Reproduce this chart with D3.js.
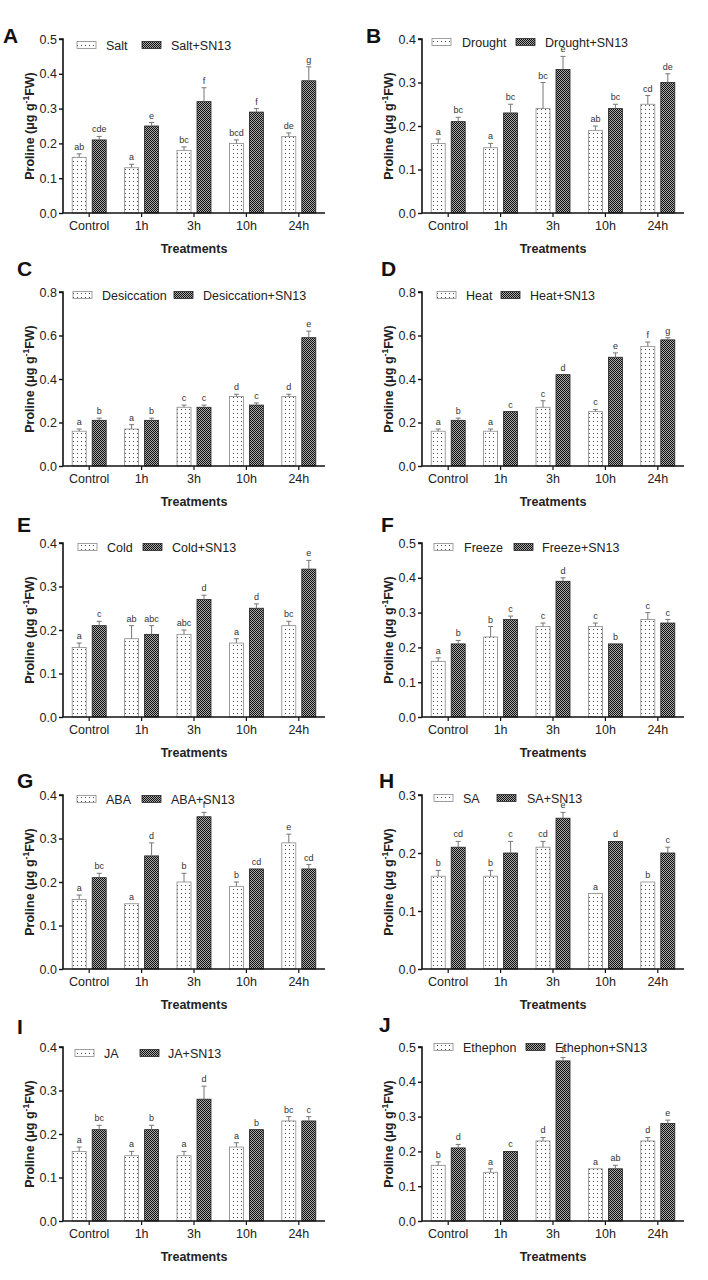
<!DOCTYPE html>
<html><head><meta charset="utf-8">
<script src="https://cdn.jsdelivr.net/npm/d3@7/dist/d3.min.js"></script>
<style>
html,body{margin:0;padding:0;background:#fff;}
svg{display:block;font-family:"Liberation Sans",Arial,sans-serif;}
</style></head>
<body>
<svg id="chart" width="708" height="1280"></svg>
<script>
// ---------- DATA ----------
const categories = ["Control", "1h", "3h", "10h", "24h"];
const panelIds = ["A","B","C","D","E","F","G","H","I","J"];
const treatments = ["Salt","Drought","Desiccation","Heat","Cold","Freeze","ABA","SA","JA","Ethephon"];
const yMaxes = [0.5, 0.4, 0.8, 0.8, 0.4, 0.5, 0.4, 0.3, 0.4, 0.5];
const yStep  = [0.1, 0.1, 0.2, 0.2, 0.1, 0.1, 0.1, 0.1, 0.1, 0.1];

// stress alone: means, errors, letters
const stressMeans = [
  [0.16, 0.13, 0.18, 0.20, 0.22],
  [0.16, 0.15, 0.24, 0.19, 0.25],
  [0.16, 0.17, 0.27, 0.32, 0.32],
  [0.16, 0.16, 0.27, 0.25, 0.55],
  [0.16, 0.18, 0.19, 0.17, 0.21],
  [0.16, 0.23, 0.26, 0.26, 0.28],
  [0.16, 0.15, 0.20, 0.19, 0.29],
  [0.16, 0.16, 0.21, 0.13, 0.15],
  [0.16, 0.15, 0.15, 0.17, 0.23],
  [0.16, 0.14, 0.23, 0.15, 0.23]
];
const stressErr = [
  [0.01, 0.01, 0.01, 0.01, 0.01],
  [0.01, 0.01, 0.06, 0.01, 0.02],
  [0.01, 0.02, 0.01, 0.01, 0.01],
  [0.01, 0.01, 0.03, 0.01, 0.02],
  [0.01, 0.03, 0.01, 0.01, 0.01],
  [0.01, 0.03, 0.01, 0.01, 0.02],
  [0.01, 0.00, 0.02, 0.01, 0.02],
  [0.01, 0.01, 0.01, 0.00, 0.00],
  [0.01, 0.01, 0.01, 0.01, 0.01],
  [0.01, 0.01, 0.01, 0.00, 0.01]
];
const stressLetters = [
  ["ab","a","bc","bcd","de"],
  ["a","a","bc","ab","cd"],
  ["a","a","c","d","d"],
  ["a","a","c","c","f"],
  ["a","ab","abc","a","bc"],
  ["a","b","c","c","c"],
  ["a","a","b","b","e"],
  ["b","b","cd","a","b"],
  ["a","a","a","a","bc"],
  ["b","a","d","a","d"]
];
// stress + SN13
const sn13Means = [
  [0.21, 0.25, 0.32, 0.29, 0.38],
  [0.21, 0.23, 0.33, 0.24, 0.30],
  [0.21, 0.21, 0.27, 0.28, 0.59],
  [0.21, 0.25, 0.42, 0.50, 0.58],
  [0.21, 0.19, 0.27, 0.25, 0.34],
  [0.21, 0.28, 0.39, 0.21, 0.27],
  [0.21, 0.26, 0.35, 0.23, 0.23],
  [0.21, 0.20, 0.26, 0.22, 0.20],
  [0.21, 0.21, 0.28, 0.21, 0.23],
  [0.21, 0.20, 0.46, 0.15, 0.28]
];
const sn13Err = [
  [0.01, 0.01, 0.04, 0.01, 0.04],
  [0.01, 0.02, 0.03, 0.01, 0.02],
  [0.01, 0.01, 0.01, 0.01, 0.03],
  [0.01, 0.00, 0.00, 0.02, 0.01],
  [0.01, 0.02, 0.01, 0.01, 0.02],
  [0.01, 0.01, 0.01, 0.00, 0.01],
  [0.01, 0.03, 0.01, 0.00, 0.01],
  [0.01, 0.02, 0.01, 0.00, 0.01],
  [0.01, 0.01, 0.03, 0.00, 0.01],
  [0.01, 0.00, 0.01, 0.01, 0.01]
];
const sn13Letters = [
  ["cde","e","f","f","g"],
  ["bc","bc","e","bc","de"],
  ["b","b","c","c","e"],
  ["b","c","d","e","g"],
  ["c","abc","d","d","e"],
  ["b","c","d","b","c"],
  ["bc","d","f","cd","cd"],
  ["cd","c","e","d","c"],
  ["bc","b","d","b","c"],
  ["d","c","f","ab","e"]
];

// ---------- LAYOUT ----------
const colAxisX = [63, 422];
const plotW = 262;
const rowTop = [39, 292, 543, 795, 1047];
const plotH = 174;
// legend: [swatch1 x offset, text1, swatch2, text2, y offset] relative to axis x / plot top
const legendLayout = [
  [14, 43, 79, 108, 6],
  [10, 40, 94, 123, 3],
  [10, 39, 111, 140, 3],
  [15, 44, 79, 108, 3],
  [15, 44, 80, 109, 4],
  [12, 42, 92, 120, 4],
  [14, 43, 79, 108, 4],
  [12, 41, 75, 105, 3],
  [12, 41, 77, 105, 6],
  [12, 41, 104, 133, 0]
];
const labelPos = [[3,43],[366,43],[17,276],[381,276],[17,532],[381,532],[17,788],[379,788],[17,1034],[379,1032]];

const svg = d3.select("#chart");
const defs = svg.append("defs");
// dotted pattern (light bars)
const pd = defs.append("pattern").attr("id","dots").attr("patternUnits","userSpaceOnUse")
  .attr("width",4).attr("height",4);
pd.append("rect").attr("width",4).attr("height",4).attr("fill","#fff");
pd.append("rect").attr("x",1).attr("y",1).attr("width",1).attr("height",1).attr("fill","#4a4a4a");
// checker pattern (dark bars)
const pc = defs.append("pattern").attr("id","checker").attr("patternUnits","userSpaceOnUse")
  .attr("width",2).attr("height",2);
pc.append("rect").attr("width",2).attr("height",2).attr("fill","#a8a8a8");
pc.append("rect").attr("x",0).attr("y",0).attr("width",1).attr("height",1).attr("fill","#111");
pc.append("rect").attr("x",1).attr("y",1).attr("width",1).attr("height",1).attr("fill","#111");

const fills = ["url(#dots)", "url(#checker)"];
const strokes = ["#8a8a8a", "#222"];

panelIds.forEach((pid, i) => {
  const col = i % 2, row = Math.floor(i / 2);
  const x0 = colAxisX[col], top = rowTop[row], bottom = top + plotH;
  const g = svg.append("g");

  const x = d3.scaleBand().domain(categories).range([x0, x0 + plotW]).padding(0);
  const xs = d3.scaleBand().domain([0,1]).range([-17, 17]).paddingInner(0.3);
  const y = d3.scaleLinear().domain([0, yMaxes[i]]).range([bottom, top]);
  const ticks = d3.range(0, yMaxes[i] + 1e-9, yStep[i]);

  // bars
  const series = [
    {means: stressMeans[i], err: stressErr[i], letters: stressLetters[i]},
    {means: sn13Means[i], err: sn13Err[i], letters: sn13Letters[i]}
  ];
  series.forEach((s, si) => {
    const data = categories.map((c, k) => ({c, v: s.means[k], e: s.err[k], l: s.letters[k]}));
    const bx = d => x(d.c) + x.bandwidth()/2 + xs(si);
    const cx = d => bx(d) + xs.bandwidth()/2;
    g.selectAll(null).data(data).enter().append("rect")
      .attr("x", bx).attr("y", d => y(d.v))
      .attr("width", xs.bandwidth()).attr("height", d => bottom - y(d.v))
      .attr("fill", fills[si]).attr("stroke", strokes[si]).attr("stroke-width", 0.8);
    // error bars (upper only)
    const eb = data.filter(d => d.e > 0);
    g.selectAll(null).data(eb).enter().append("line")
      .attr("x1", cx).attr("x2", cx).attr("y1", d => y(d.v)).attr("y2", d => y(d.v + d.e))
      .attr("stroke", "#777").attr("stroke-width", 1);
    g.selectAll(null).data(eb).enter().append("line")
      .attr("x1", d => cx(d) - 2.5).attr("x2", d => cx(d) + 2.5)
      .attr("y1", d => y(d.v + d.e)).attr("y2", d => y(d.v + d.e))
      .attr("stroke", "#777").attr("stroke-width", 1);
    // letters
    g.selectAll(null).data(data).enter().append("text")
      .attr("x", cx).attr("y", d => y(d.v + d.e) - 4)
      .attr("text-anchor", "middle").attr("font-size", 9).attr("fill", "#333")
      .text(d => d.l);
  });

  // axes
  const yAxis = d3.axisLeft(y).tickValues(ticks).tickFormat(d3.format(".1f")).tickSize(4).tickPadding(2);
  const ya = g.append("g").attr("transform", `translate(${x0},0)`).call(yAxis);
  ya.select(".domain").attr("stroke", "#111").attr("stroke-width", 1.6).attr("d", `M-4,${top}H0V${bottom}`);
  ya.selectAll(".tick line").attr("stroke", "#111").attr("stroke-width", 1.4);
  ya.selectAll(".tick text").attr("font-size", 12.5).attr("fill", "#222")
    .attr("font-family", "'Liberation Sans',Arial,sans-serif");

  const xAxis = d3.axisBottom(x).tickSize(4).tickPadding(4);
  const xa = g.append("g").attr("transform", `translate(0,${bottom})`).call(xAxis);
  xa.select(".domain").attr("stroke", "#111").attr("stroke-width", 1.6).attr("d", `M${x0},0H${x0 + plotW}`);
  xa.selectAll(".tick line").attr("stroke", "#111").attr("stroke-width", 1.2);
  xa.selectAll(".tick text").attr("font-size", 12.5).attr("fill", "#222")
    .attr("font-family", "'Liberation Sans',Arial,sans-serif");

  // axis titles
  g.append("text").attr("x", x0 + plotW/2).attr("y", bottom + 40)
    .attr("text-anchor", "middle").attr("font-size", 12.5).attr("font-weight", "bold").attr("fill", "#222")
    .text("Treatments");
  const yt = g.append("text")
    .attr("transform", `translate(${x0 - 29},${(top + bottom)/2}) rotate(-90)`)
    .attr("text-anchor", "middle").attr("font-size", 12.5).attr("font-weight", "bold").attr("fill", "#222");
  yt.append("tspan").text("Proline (μg g");
  yt.append("tspan").attr("dy", -5).attr("font-size", 8.5).text("-1");
  yt.append("tspan").attr("dy", 5).text("FW)");

  // legend
  const L = legendLayout[i];
  const ly = top + L[4];
  const names = [treatments[i], treatments[i] + "+SN13"];
  [[L[0], L[1]], [L[2], L[3]]].forEach((p, si) => {
    g.append("rect").attr("x", x0 + p[0]).attr("y", ly - 3.5).attr("width", 19).attr("height", 7)
      .attr("fill", fills[si]).attr("stroke", strokes[si]).attr("stroke-width", 0.8);
    g.append("text").attr("x", x0 + p[1]).attr("y", ly + 4.5)
      .attr("font-size", 12.5).attr("fill", "#222").text(names[si]);
  });

  // panel label
  g.append("text").attr("x", labelPos[i][0]).attr("y", labelPos[i][1])
    .attr("font-size", 21).attr("font-weight", "bold").attr("fill", "#111").text(pid);
});
</script>
</body></html>
